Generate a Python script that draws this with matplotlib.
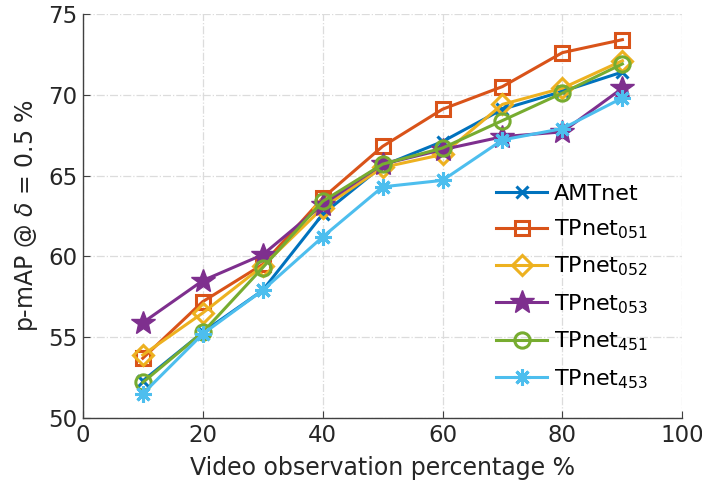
import numpy as np
import matplotlib
matplotlib.use('Agg')
import matplotlib.pyplot as plt

# observation percentage
obs_pct = [10, 20, 30, 40, 50, 60, 70, 80, 90]

amtnet = [52.3, 55.3, 57.9, 62.6, 65.6, 67.1, 69.1, 70.2, 71.4]
tpnet_051 = [53.7, 57.2, 59.5, 63.6, 66.8, 69.1, 70.5, 72.6, 73.4]
tpnet_052 = [53.9, 56.5, 59.4, 63.0, 65.5, 66.3, 69.4, 70.4, 72.1]
tpnet_053 = [55.9, 58.5, 60.1, 63.2, 65.7, 66.6, 67.4, 67.7, 70.4]
tpnet_451 = [52.2, 55.3, 59.3, 63.4, 65.7, 66.7, 68.4, 70.1, 71.9]
tpnet_453 = [51.5, 55.2, 57.9, 61.2, 64.3, 64.7, 67.2, 67.9, 69.8]

labels = ['AMTnet', r'TPnet$_{051}$', r'TPnet$_{052}$', r'TPnet$_{053}$',
          r'TPnet$_{451}$', r'TPnet$_{453}$']

series = [amtnet, tpnet_051, tpnet_052, tpnet_053, tpnet_451, tpnet_453]
colors = ['#0072BD', '#D95319', '#EDB120', '#7E2F8E', '#77AC30', '#4DBEEE']
markers = ['x', 's', 'D', '*', 'o', (8, 2, 0)]
msizes = [9, 10, 10, 18, 11, 12]

fig = plt.figure(figsize=(7.02, 4.93), dpi=100)
ax = fig.add_axes([0.118, 0.152, 0.854, 0.82])

for ys, lab, c, m, ms in zip(series, labels, colors, markers, msizes):
    if m == '*':
        ax.plot(obs_pct, ys, color=c, marker=m, markersize=ms, lw=2.2,
                label=lab)
    else:
        ax.plot(obs_pct, ys, color=c, marker=m, markersize=ms, lw=2.2,
                mfc='none', mew=2.2, label=lab)

ax.set_xlim(0, 100)
ax.set_ylim(50, 75)
ax.set_xticks(np.arange(0, 101, 20))
ax.set_yticks(np.arange(50, 76, 5))
ax.grid(True, linestyle='-.', color='#dcdcdc', lw=0.9)
ax.set_axisbelow(True)

for s in ['top', 'right']:
    ax.spines[s].set_visible(False)
for s in ['left', 'bottom']:
    ax.spines[s].set_color('#404040')
    ax.spines[s].set_linewidth(1.0)
ax.tick_params(direction='in', labelsize=16.5, colors='#404040',
               labelcolor='#262626', length=5, pad=4)

ax.set_xlabel('Video observation percentage %', fontsize=17, color='#262626',
              labelpad=7)
ax.set_ylabel(r'p-mAP @ $\delta$ = 0.5 %', fontsize=17, color='#262626',
              labelpad=6)

ax.legend(loc='lower right', frameon=False, fontsize=16, handlelength=2.3,
          handletextpad=0.3, labelspacing=0.62, borderaxespad=0.2,
          bbox_to_anchor=(0.965, 0.035))

fig.savefig('out.png', dpi=100)
